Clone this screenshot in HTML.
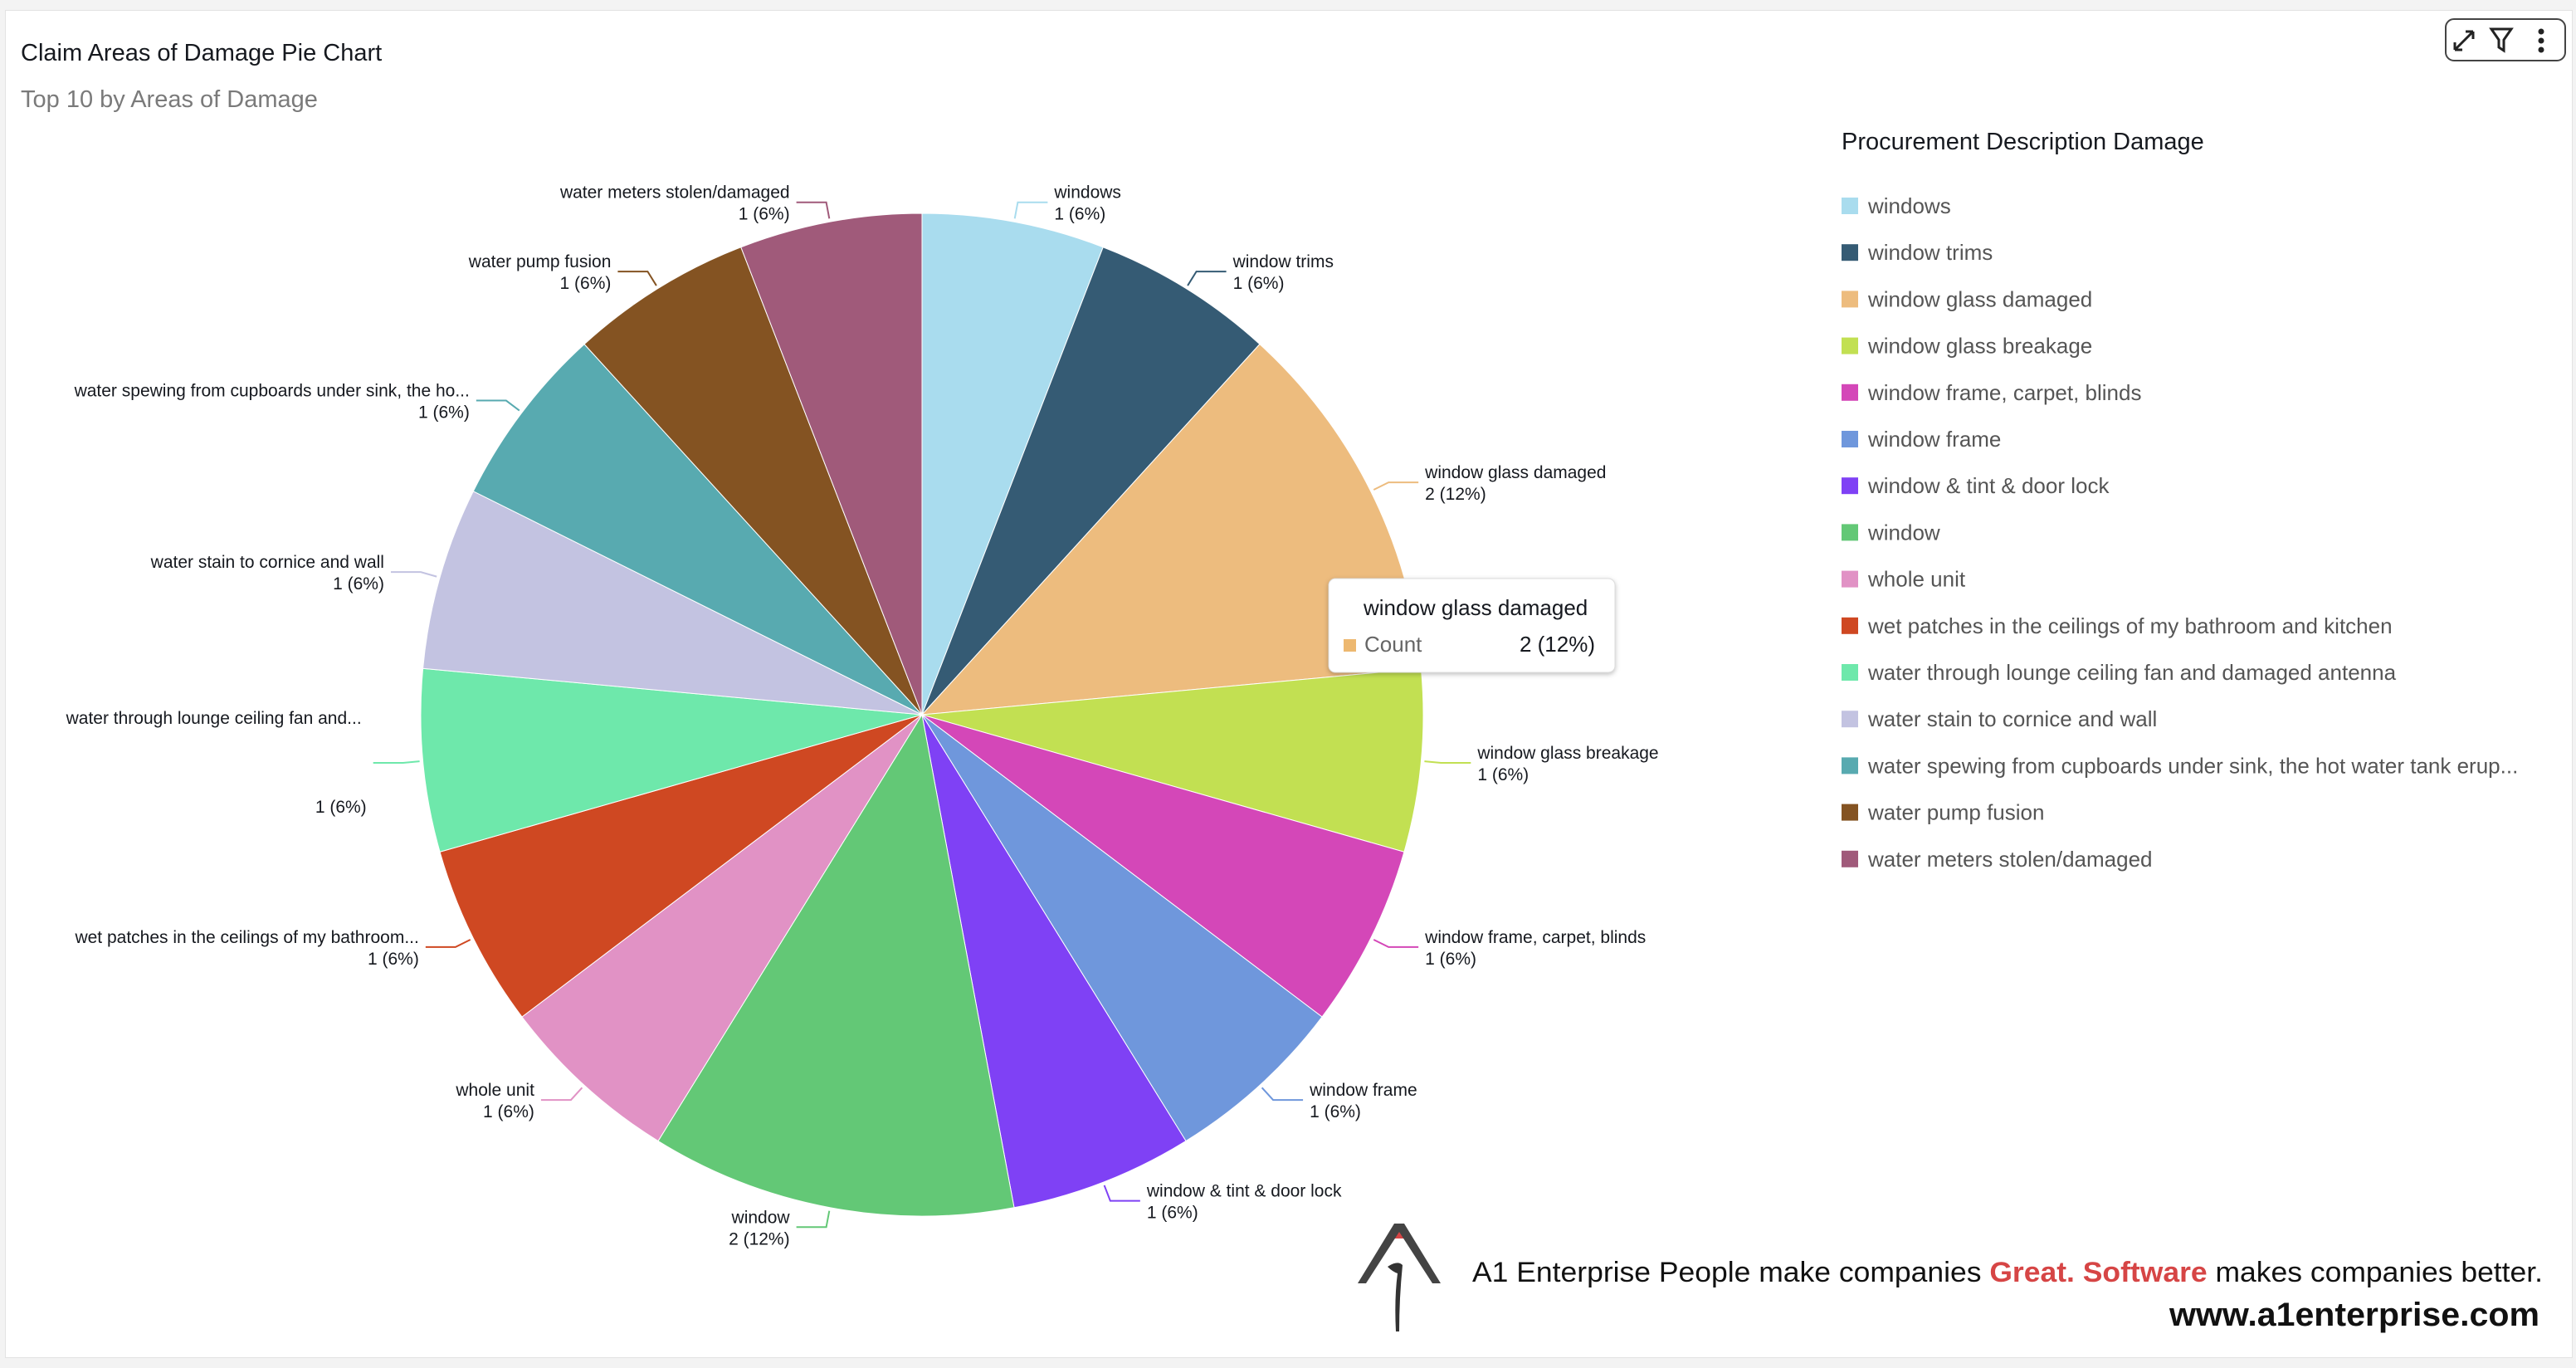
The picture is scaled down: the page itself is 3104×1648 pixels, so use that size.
<!DOCTYPE html>
<html><head><meta charset="utf-8"><style>
body{margin:0;width:3104px;height:1648px;background:#f3f3f3;overflow:hidden;font-family:"Liberation Sans",sans-serif}
#card{position:absolute;left:6px;top:12px;width:3092px;height:1622px;background:#fff;border:1px solid #e3e3e3}
svg{position:absolute;left:0;top:0}
</style></head><body>
<div id="card"></div>
<svg id="chart" width="3104" height="1648">
<text x="25" y="73" font-size="29" fill="#16191f">Claim Areas of Damage Pie Chart</text>
<text x="25" y="129" font-size="29" fill="#7a7a7a">Top 10 by Areas of Damage</text>
<g>
<rect x="2947" y="23" width="144" height="50" rx="10" fill="#fff" stroke="#444" stroke-width="2"/>
<g stroke="#222" stroke-width="3" fill="none"><path d="M2958 60 L2980 38 M2958 60 v-9 M2958 60 h9 M2980 38 h-9 M2980 38 v9"/></g>
<path d="M3002 35 h24 l-9 13 v13 l-6 -4 v-9 z" fill="none" stroke="#222" stroke-width="3"/>
<g fill="#222"><circle cx="3062" cy="38" r="3.5"/><circle cx="3062" cy="49" r="3.5"/><circle cx="3062" cy="60" r="3.5"/></g>
</g>
<g id="slices"></g><g id="labels"></g>
<text x="2219" y="180" font-size="29" fill="#16191f">Procurement Description Damage</text>
<g id="legend"></g>
<g>
<rect x="1601" y="697" width="345" height="113" rx="8" fill="#fff" stroke="#ddd" style="filter:drop-shadow(0 2px 3px rgba(0,0,0,.25))"/>
<text x="1643" y="741" font-size="26" fill="#16191f">window glass damaged</text>
<rect x="1619" y="770" width="15" height="15" fill="#edb870"/>
<text x="1644" y="785" font-size="26" fill="#666">Count</text>
<text x="1922" y="785" font-size="26" fill="#16191f" text-anchor="end">2 (12%)</text>
</g>
<g>
<path d="M1688 1478 l-8 14 h16 z" fill="#d64545"/>
<path d="M1636 1546 l44 -72 l12 0 l44 72 h-10 l-40 -62 l-40 62 z" fill="#444"/>
<path d="M1672 1526 q12 -8 18 -2 q-4 40 -4 80 l-4 0 q-2 -40 2 -70 q-6 -2 -12 -8z" fill="#333"/>
<text x="1774" y="1544" font-size="34" fill="#111" textLength="1290" lengthAdjust="spacingAndGlyphs">A1 Enterprise  People make companies <tspan fill="#d64545" font-weight="bold">Great. Software</tspan> makes companies better.</text>
<text x="2614" y="1597" font-size="40" font-weight="bold" fill="#111" textLength="446" lengthAdjust="spacingAndGlyphs">www.a1enterprise.com</text>
</g>
</svg>
<script>
const categories=["windows","window trims","window glass damaged","window glass breakage","window frame, carpet, blinds","window frame","window & tint & door lock","window","whole unit","wet patches in the ceilings of my bathroom and kitchen","water through lounge ceiling fan and damaged antenna","water stain to cornice and wall","water spewing from cupboards under sink, the hot water tank erup...","water pump fusion","water meters stolen/damaged"];
const shortLabels=["windows","window trims","window glass damaged","window glass breakage","window frame, carpet, blinds","window frame","window & tint & door lock","window","whole unit","wet patches in the ceilings of my bathroom...","water through lounge ceiling fan and...","water stain to cornice and wall","water spewing from cupboards under sink, the ho...","water pump fusion","water meters stolen/damaged"];
const counts=[1,1,2,1,1,1,1,2,1,1,1,1,1,1,1];
const colors=["#a9dcee","#355b74","#edbc7e","#c2e052","#d447b8","#6f97dc","#7f41f5","#63c876","#e192c5","#cf4822","#6ee8ab","#c3c3e1","#58aab0","#845322","#a05a7a"];
const NS="http://www.w3.org/2000/svg";
const cx=1111,cy=861,R=604;
const total=counts.reduce((a,b)=>a+b,0);
const sl=document.getElementById('slices'),lb=document.getElementById('labels'),lg=document.getElementById('legend');
function pt(a,r){return [cx+r*Math.sin(a),cy-r*Math.cos(a)];}
let acc=0;
counts.forEach((v,i)=>{
  const a0=acc/total*2*Math.PI;acc+=v;const a1=acc/total*2*Math.PI;
  const p0=pt(a0,R),p1=pt(a1,R);
  const path=document.createElementNS(NS,'path');
  path.setAttribute('d',`M${cx},${cy} L${p0[0]},${p0[1]} A${R},${R} 0 ${a1-a0>Math.PI?1:0} 1 ${p1[0]},${p1[1]} Z`);
  path.setAttribute('fill',colors[i]);path.setAttribute('stroke','#fff');path.setAttribute('stroke-width','1');
  
  
  sl.appendChild(path);
  const am=(a0+a1)/2,P=pt(am,R+4),E=pt(am,R+24);
  const right=Math.sin(am)>=0,H=E[0]+(right?36:-36);
  const line=document.createElementNS(NS,'polyline');
  line.setAttribute('points',`${P[0]},${P[1]} ${E[0]},${E[1]} ${H},${E[1]}`);
  line.setAttribute('fill','none');line.setAttribute('stroke',colors[i]);line.setAttribute('stroke-width','2');
  
  
  lb.appendChild(line);
  const t=document.createElementNS(NS,'text');
  const tx=H+(right?8:-8);
  const split=(i===10);
  t.setAttribute('font-size','21');t.setAttribute('fill','#16191f');t.setAttribute('text-anchor',right?'start':'end');
  
  
  const s1=document.createElementNS(NS,'tspan');s1.setAttribute('x',split?tx-6:tx);s1.setAttribute('y',E[1]-(split?47:5));s1.textContent=shortLabels[i];
  const s2=document.createElementNS(NS,'tspan');s2.setAttribute('x',tx);s2.setAttribute('y',E[1]+(split?60:21));s2.textContent=v+' ('+Math.round(v/total*100)+'%)';
  t.appendChild(s1);t.appendChild(s2);lb.appendChild(t);
  const g=document.createElementNS(NS,'g');
  
  
  const y=248+i*56.2;
  const r=document.createElementNS(NS,'rect');r.setAttribute('x',2219);r.setAttribute('y',y-10);r.setAttribute('width',20);r.setAttribute('height',20);r.setAttribute('fill',colors[i]);
  const lt=document.createElementNS(NS,'text');lt.setAttribute('x',2251);lt.setAttribute('y',y+9);lt.setAttribute('font-size','26');lt.setAttribute('fill','#555');lt.textContent=categories[i];
  g.appendChild(r);g.appendChild(lt);lg.appendChild(g);
});
</script>
</body></html>
